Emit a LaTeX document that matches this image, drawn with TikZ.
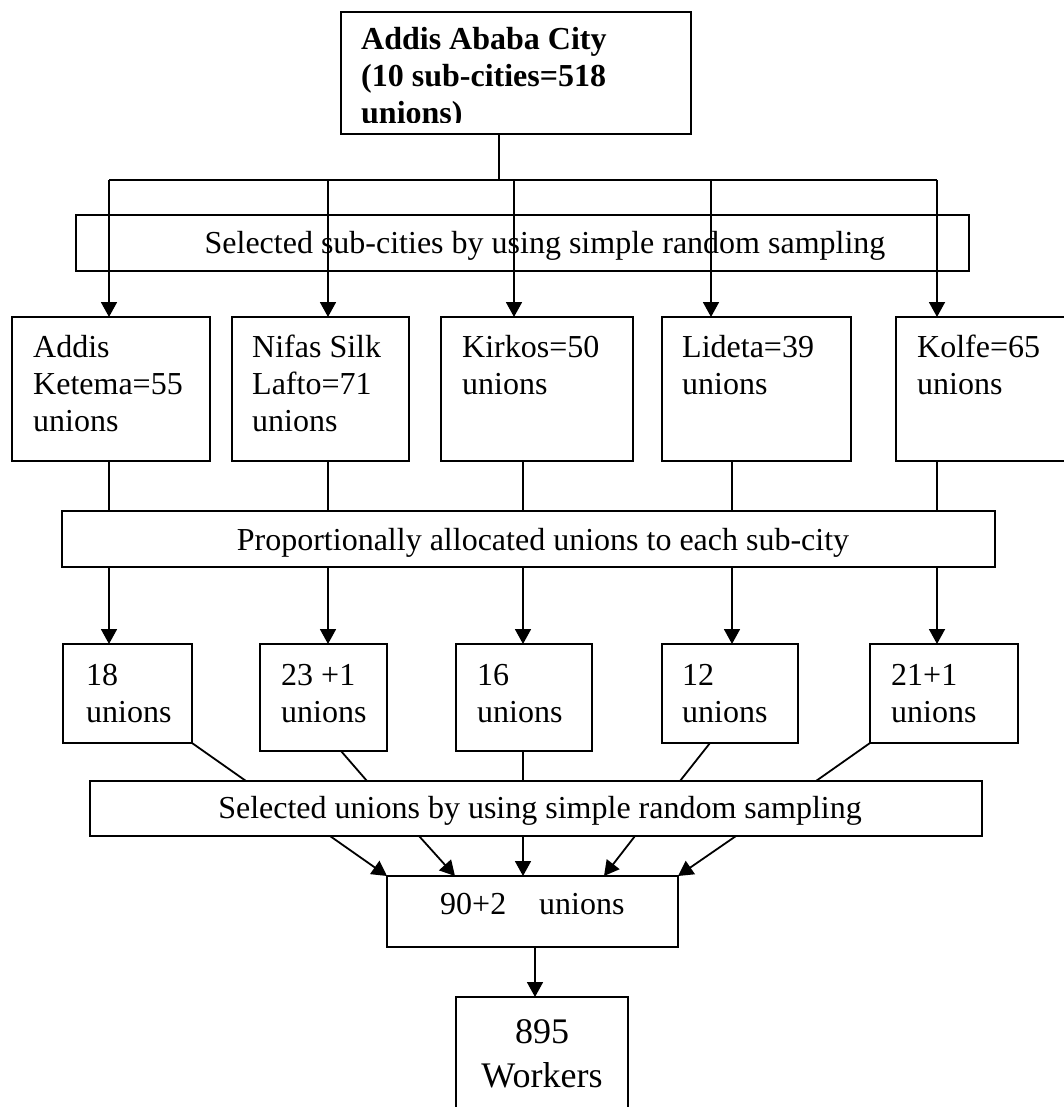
\documentclass[tikz,border=0pt]{standalone}
\usepackage{fontspec}
\setmainfont{Liberation Serif}
\usetikzlibrary{arrows.meta,calc}
\tikzset{
  box/.style={draw, line width=1.8pt, inner sep=0pt, outer sep=0pt, anchor=north west},
  lbl/.style={inner sep=0pt, anchor=base west, align=left, font=\fontsize{32}{37}\selectfont},
  clbl/.style={inner sep=0pt, anchor=base, font=\fontsize{32}{37}\selectfont},
  conn/.style={line width=1.8pt},
  arr/.style={line width=1.8pt, -{Triangle[length=15pt,width=16pt]}},
}
\begin{document}
\begin{tikzpicture}[x=1pt,y=-1pt]
\path[use as bounding box, fill=white] (0,0) rectangle (1064,1107);

% boxes
\node[box, minimum width=350pt, minimum height=122pt] (top) at (341,12) {};
\node[box, minimum width=893pt, minimum height=56pt] (ssc) at (76,215) {};
\node[box, minimum width=198pt, minimum height=144pt] (r1) at (12,317) {};
\node[box, minimum width=177pt, minimum height=144pt] (r2) at (232,317) {};
\node[box, minimum width=192pt, minimum height=144pt] (r3) at (441,317) {};
\node[box, minimum width=189pt, minimum height=144pt] (r4) at (662,317) {};
\node[box, minimum width=190pt, minimum height=144pt] (r5) at (896,317) {};
\node[box, minimum width=933pt, minimum height=56pt] (prop) at (62,511) {};
\node[box, minimum width=129pt, minimum height=99pt] (s1) at (63,644) {};
\node[box, minimum width=127pt, minimum height=107pt] (s2) at (260,644) {};
\node[box, minimum width=136pt, minimum height=107pt] (s3) at (456,644) {};
\node[box, minimum width=136pt, minimum height=99pt] (s4) at (662,644) {};
\node[box, minimum width=148pt, minimum height=99pt] (s5) at (870,644) {};
\node[box, minimum width=892pt, minimum height=55pt] (su) at (90,781) {};
\node[box, minimum width=291pt, minimum height=71pt] (ag) at (387,876) {};
\node[box, minimum width=172pt, minimum height=130pt] (wk) at (456,997) {};

% texts (base anchor = baseline of the last line)
\begin{scope}
\clip (341,12) rectangle (691,123);
\node[lbl, font=\fontsize{32}{37}\selectfont\bfseries] (ttop) at (361,124) {Addis Ababa City\\(10 sub-cities=518\\unions)};
\end{scope}
\node[clbl] (tssc) at (545,253) {Selected sub-cities by using simple random sampling};
\node[lbl] (tr1) at (33,431) {Addis\\Ketema=55\\unions};
\node[lbl] (tr2) at (252,431) {Nifas Silk\\Lafto=71\\unions};
\node[lbl] (tr3) at (462,394) {Kirkos=50\\unions};
\node[lbl] (tr4) at (682,394) {Lideta=39\\unions};
\node[lbl] (tr5) at (917,394) {Kolfe=65\\unions};
\node[clbl] (tprop) at (543,550) {Proportionally allocated unions to each sub-city};
\node[lbl] (ts1) at (86,722) {18\\unions};
\node[lbl] (ts2) at (281,722) {23 +1\\unions};
\node[lbl] (ts3) at (477,722) {16\\unions};
\node[lbl] (ts4) at (682,722) {12\\unions};
\node[lbl] (ts5) at (891,722) {21+1\\unions};
\node[clbl] (tsu) at (540,818) {Selected unions by using simple random sampling};
\node[lbl] (tag) at (440,914) {90+2\hspace{33pt}unions};
\node[inner sep=0pt, anchor=base, align=center, font=\fontsize{36}{44}\selectfont] (twk) at (542,1087) {895\\Workers};

% column coordinates
\coordinate (stem) at (499,180);
\coordinate (hL) at (109,180);
\coordinate (h2) at (328,180);
\coordinate (h3) at (514,180);
\coordinate (h4) at (711,180);
\coordinate (hR) at (937,180);
\coordinate (c1) at (109,0);
\coordinate (c2) at (328,0);
\coordinate (c3) at (523,0);
\coordinate (c4) at (732,0);
\coordinate (c5) at (937,0);
\coordinate (c6) at (535,0);

% top fan-out
\draw[conn] (stem |- top.south) -- (stem);
\draw[conn] (hL) -- (hR);
\draw[arr] (hL) -- (hL |- r1.north);
\draw[arr] (h2) -- (h2 |- r2.north);
\draw[arr] (h3) -- (h3 |- r3.north);
\draw[arr] (h4) -- (h4 |- r4.north);
\draw[arr] (hR) -- (hR |- r5.north);

% row 2 to proportional box and down
\draw[conn] (r1.south -| c1) -- (prop.north -| c1);
\draw[conn] (r2.south -| c2) -- (prop.north -| c2);
\draw[conn] (r3.south -| c3) -- (prop.north -| c3);
\draw[conn] (r4.south -| c4) -- (prop.north -| c4);
\draw[conn] (r5.south -| c5) -- (prop.north -| c5);
\draw[arr] (prop.south -| c1) -- (s1.north -| c1);
\draw[arr] (prop.south -| c2) -- (s2.north -| c2);
\draw[arr] (prop.south -| c3) -- (s3.north -| c3);
\draw[arr] (prop.south -| c4) -- (s4.north -| c4);
\draw[arr] (prop.south -| c5) -- (s5.north -| c5);

% row 3 to selected unions box
\draw[conn] (s1.south east) -- ($(su.north west)+(156,0)$);
\draw[conn] ($(s2.south west)+(81,0)$) -- ($(su.north west)+(277,0)$);
\draw[conn] (s3.south -| c3) -- (su.north -| c3);
\draw[conn] ($(s4.south west)+(48,0)$) -- ($(su.north west)+(590,0)$);
\draw[conn] (s5.south west) -- ($(su.north west)+(726,0)$);

% selected unions to 90+2
\draw[arr] ($(su.south west)+(240,0)$) -- (ag.north west);
\draw[arr] ($(su.south west)+(329,0)$) -- ($(ag.north west)+(68,0)$);
\draw[arr] (su.south -| c3) -- (ag.north -| c3);
\draw[arr] ($(su.south west)+(545,0)$) -- ($(ag.north west)+(217,0)$);
\draw[arr] ($(su.south west)+(646,0)$) -- (ag.north east);

% to workers
\draw[arr] (ag.south -| c6) -- (wk.north -| c6);
\end{tikzpicture}
\end{document}
